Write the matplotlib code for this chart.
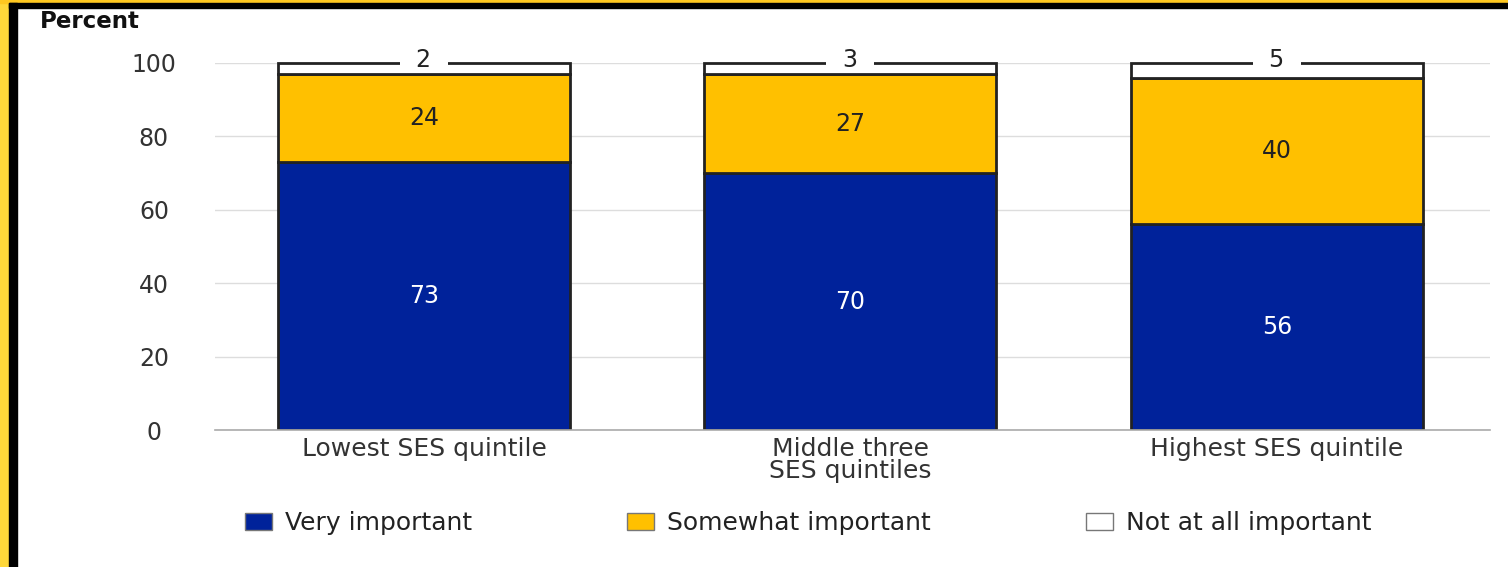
import matplotlib.pyplot as plt
from matplotlib.patches import Rectangle
import numpy as np

plt.rcParams['font.family'] = ['DejaVu Sans']

# Data
categories = ['Lowest SES quintile', 'Middle three\nSES quintiles', 'Highest SES quintile']
very = [73, 70, 56]
somewhat = [24, 27, 40]
not_at_all = [2, 3, 5]
series_names = ['Very important', 'Somewhat important', 'Not at all important']
colors = ['#00229A', '#FFC000', '#FFFFFF']

W, H = 1508, 567
fig = plt.figure(figsize=(W / 100, H / 100), dpi=100)
ax = fig.add_axes([215 / W, 1 - 430 / H, (1490 - 215) / W, (430 - 63) / H])

x = np.arange(len(categories))
width = 0.685
very_a = np.array(very)
some_a = np.array(somewhat)
# chart shows each bar filled to 100 (rounded shares), top segment fills the rest
top_seg = 100 - very_a - some_a

ax.bar(x, very_a, width, color=colors[0], edgecolor='#222222', linewidth=2,
       label=series_names[0], zorder=2)
ax.bar(x, some_a, width, bottom=very_a, color=colors[1], edgecolor='#222222',
       linewidth=2, label=series_names[1], zorder=2)
ax.bar(x, top_seg, width, bottom=very_a + some_a, color=colors[2],
       edgecolor='#222222', linewidth=2, label=series_names[2], zorder=2,
       clip_on=False)

# Value labels
for i in range(len(categories)):
    ax.text(x[i], very[i] / 2, str(very[i]), ha='center', va='center',
            color='white', fontsize=17, zorder=3)
    ax.text(x[i], very[i] + somewhat[i] / 2, str(somewhat[i]), ha='center',
            va='center', color='#222222', fontsize=17, zorder=3)
    ax.text(x[i], 100.8, '  ' + str(not_at_all[i]) + '  ', ha='center',
            va='center', color='#222222', fontsize=17, zorder=4, clip_on=False,
            bbox=dict(facecolor='white', edgecolor='none', pad=1))

ax.set_xlim(-0.49, 2.5)
ax.set_ylim(0, 100)
ax.set_yticks([0, 20, 40, 60, 80, 100])
ax.set_xticks(x)
ax.set_xticklabels(categories, fontsize=18, color='#333333', linespacing=0.9)
ax.tick_params(axis='x', length=0, pad=5)
ax.tick_params(axis='y', length=0, pad=44, labelsize=17, labelcolor='#333333')
for lbl in ax.get_yticklabels():
    lbl.set_horizontalalignment('center')
ax.grid(axis='y', color='#dddddd', linewidth=1, zorder=0)
for s in ['top', 'right', 'left']:
    ax.spines[s].set_visible(False)
ax.spines['bottom'].set_color('#aaaaaa')
ax.spines['bottom'].set_linewidth(1.2)

fig.text(40 / W, 1 - 22 / H, 'Percent', fontsize=16.5, fontweight='bold',
         color='#111111', ha='left', va='center')

leg = fig.legend(loc='center', bbox_to_anchor=(808 / W, 1 - 523 / H), ncol=3,
                 frameon=False, fontsize=18, handlelength=1.1, handleheight=0.7,
                 handletextpad=0.5, columnspacing=6.2)
for t in leg.get_texts():
    t.set_color('#222222')
for p in leg.get_patches():
    p.set_linewidth(1)
    p.set_edgecolor('#777777')

# Frame border
fig.patches.append(Rectangle((0, 0), 9 / W, 1, transform=fig.transFigure,
                             color='#FFD83A', zorder=0))
fig.patches.append(Rectangle((0, 1 - 3 / H), 1, 3 / H, transform=fig.transFigure,
                             color='#FFC820', zorder=0))
fig.patches.append(Rectangle((9 / W, 0), 8 / W, 1 - 3 / H, transform=fig.transFigure,
                             color='#000000', zorder=1))
fig.patches.append(Rectangle((9 / W, 1 - 8 / H), 1, 5 / H, transform=fig.transFigure,
                             color='#000000', zorder=1))

fig.savefig('out.png', dpi=100)
